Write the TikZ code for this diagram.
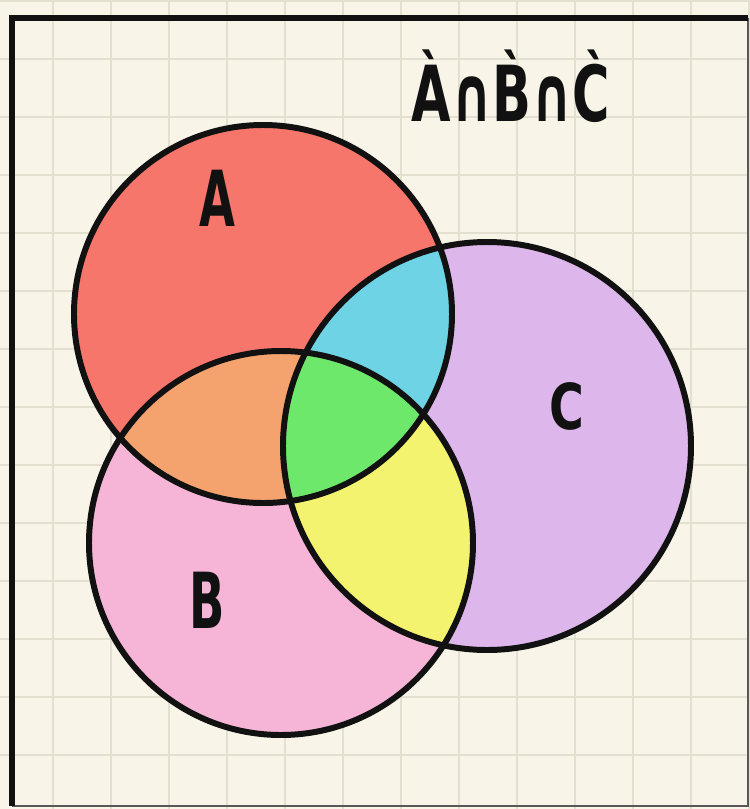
\documentclass[tikz,border=0pt]{standalone}
\usepackage{fontspec}
\setmainfont{DejaVu Sans}
\usetikzlibrary{positioning}
\definecolor{paper}{HTML}{F8F5E8}
\definecolor{gridline}{HTML}{E4E0CF}
\definecolor{setA}{HTML}{F7766B}
\definecolor{setB}{HTML}{F6B5D6}
\definecolor{setC}{HTML}{DDB6EC}
\definecolor{setAB}{HTML}{F4A36F}
\definecolor{setAC}{HTML}{6FD3E6}
\definecolor{setBC}{HTML}{F4F370}
\definecolor{setABC}{HTML}{6DE86B}
\definecolor{ink}{HTML}{111111}
\newcommand{\narrow}[2]{\scalebox{#1}[1]{#2}}
\tikzset{
  ring/.style={draw=ink, line width=3.4pt},
  frame/.style={draw=ink, line width=3.6pt},
  thinframe/.style={draw=ink!70, line width=1.2pt},
  grid/.style={draw=gridline, line width=1.1pt},
  hand/.style={font=\fontsize{44pt}{48pt}\selectfont, text=ink, inner sep=0pt},
  ttl/.style={font=\fontsize{44pt}{48pt}\selectfont, text=ink, inner sep=0pt},
}
\begin{document}
\begin{tikzpicture}[x=0.02cm, y=-0.02cm]
    \useasboundingbox (0,0) rectangle (750,809);
    \fill[paper] (0,0) rectangle (750,809);
    % grid paper
    \foreach \gx in {53,111,...,750} \draw[grid] (\gx,0) -- (\gx,809);
    \foreach \gy in {1,59,...,809} \draw[grid] (0,\gy) -- (750,\gy);
    % frame
    \draw[thinframe] (748,18) -- (748,806) -- (12,806);
    \draw[frame] (12,806) -- (12,18) -- (748,18);
    % set centres
    \coordinate (cA) at (263,314);
    \coordinate (cB) at (281,543);
    \coordinate (cC) at (487,446);
    \def\rA{189} \def\rB{192} \def\rC{204}
    % regions
    \fill[setA] (cA) circle[radius=\rA];
    \fill[setB] (cB) circle[radius=\rB];
    \fill[setC] (cC) circle[radius=\rC];
    \begin{scope}
      \clip (cA) circle[radius=\rA];
      \fill[setAB] (cB) circle[radius=\rB];
      \fill[setAC] (cC) circle[radius=\rC];
    \end{scope}
    \begin{scope}
      \clip (cB) circle[radius=\rB];
      \fill[setBC] (cC) circle[radius=\rC];
      \clip (cA) circle[radius=\rA];
      \fill[setABC] (cC) circle[radius=\rC];
    \end{scope}
    \draw[ring] (cA) circle[radius=\rA];
    \draw[ring] (cB) circle[radius=\rB];
    \draw[ring] (cC) circle[radius=\rC];
    % labels
    \node[hand] (labA) at (217,198) {\narrow{0.6}{\bfseries A}};
    \node[hand] (labB) at (207,600) {\narrow{0.6}{\bfseries B}};
    \node[hand, font=\fontsize{36pt}{40pt}\selectfont] (labC) at (567,406) {\narrow{0.75}{\bfseries C}};
    \node[ttl] (title) at (511,86) {\narrow{0.66}{\bfseries À∩B̀∩C̀}};
\end{tikzpicture}
\end{document}
